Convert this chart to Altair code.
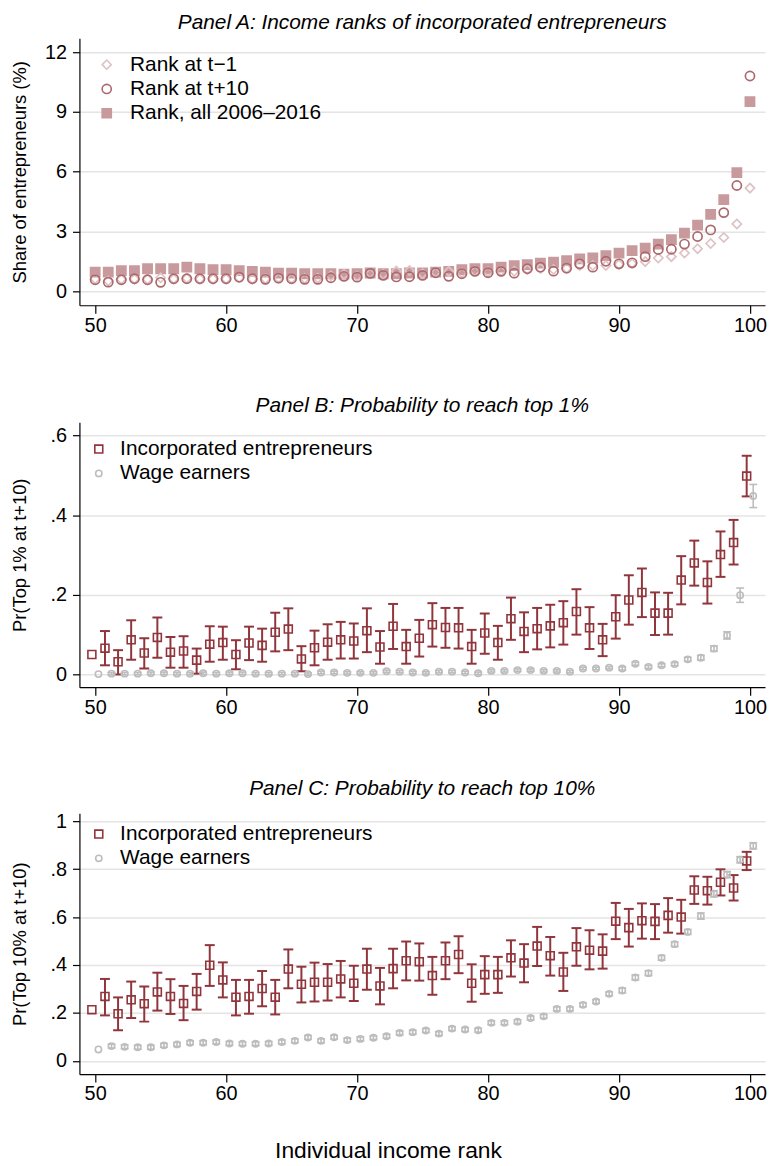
import altair as alt
import pandas as pd

ranks = list(range(50, 101))

# ---------------- Panel A: share of entrepreneurs (%) ----------------
rank_tm1 = [0.62, 0.52, 0.60, 0.62, 0.60, 0.68, 0.62, 0.65, 0.62, 0.62,
            0.62, 0.68, 0.62, 0.62, 0.66, 0.64, 0.64, 0.66, 0.78, 0.85,
            0.76, 0.90, 0.86, 1.02, 1.04, 0.88, 0.95, 1.00, 0.92, 1.02,
            0.98, 1.02, 1.00, 1.10, 1.15, 1.09, 1.15, 1.30, 1.29, 1.29,
            1.35, 1.40, 1.49, 1.67, 1.74, 1.92, 2.14, 2.40, 2.70, 3.38,
            5.18]
rank_tp10 = [0.58, 0.46, 0.58, 0.63, 0.58, 0.45, 0.63, 0.63, 0.63, 0.63,
             0.63, 0.71, 0.63, 0.60, 0.66, 0.63, 0.60, 0.60, 0.68, 0.75,
             0.71, 0.90, 0.80, 0.72, 0.73, 0.80, 0.93, 0.75, 0.88, 1.00,
             0.93, 1.00, 0.91, 1.13, 1.21, 1.01, 1.16, 1.38, 1.21, 1.51,
             1.38, 1.43, 1.74, 2.10, 2.11, 2.37, 2.75, 3.08, 3.95, 5.31,
             10.81]
rank_all = [0.96, 0.96, 1.04, 1.04, 1.13, 1.13, 1.13, 1.21, 1.13, 1.09,
            1.08, 1.04, 1.00, 0.96, 0.91, 0.91, 0.88, 0.88, 0.88, 0.86,
            0.88, 0.92, 0.88, 0.88, 0.92, 0.92, 0.96, 1.00, 1.08, 1.13,
            1.13, 1.21, 1.29, 1.34, 1.41, 1.46, 1.54, 1.63, 1.67, 1.79,
            1.92, 2.04, 2.16, 2.37, 2.59, 2.92, 3.32, 3.86, 4.60, 5.96,
            9.52]

# ---------------- Panel B: Pr(top 1% at t+10) ----------------
top1_ent = [0.050, 0.066, 0.032, 0.087, 0.054, 0.093, 0.056, 0.059, 0.036, 0.076,
            0.080, 0.050, 0.079, 0.073, 0.106, 0.114, 0.039, 0.067, 0.081, 0.087,
            0.084, 0.110, 0.069, 0.121, 0.070, 0.091, 0.125, 0.118, 0.117, 0.070,
            0.104, 0.080, 0.140, 0.108, 0.115, 0.122, 0.130, 0.158, 0.117, 0.087,
            0.145, 0.187, 0.206, 0.154, 0.154, 0.237, 0.280, 0.231, 0.301, 0.331,
            0.498]
top1_ent_lo = [None, 0.023, 0.000, 0.037, 0.015, 0.042, 0.017, 0.017, 0.002, 0.032,
               0.037, 0.013, 0.036, 0.032, 0.058, 0.061, 0.008, 0.023, 0.037, 0.040,
               0.040, 0.056, 0.027, 0.064, 0.027, 0.045, 0.070, 0.067, 0.065, 0.027,
               0.052, 0.037, 0.087, 0.056, 0.063, 0.068, 0.075, 0.100, 0.064, 0.046,
               0.090, 0.125, 0.144, 0.099, 0.100, 0.176, 0.223, 0.178, 0.245, 0.276,
               0.447]
top1_ent_hi = [None, 0.109, 0.061, 0.136, 0.091, 0.143, 0.094, 0.096, 0.065, 0.121,
               0.120, 0.086, 0.120, 0.115, 0.155, 0.166, 0.071, 0.110, 0.126, 0.132,
               0.128, 0.166, 0.109, 0.177, 0.112, 0.137, 0.179, 0.167, 0.167, 0.112,
               0.153, 0.122, 0.193, 0.156, 0.167, 0.175, 0.184, 0.214, 0.169, 0.127,
               0.199, 0.249, 0.266, 0.206, 0.205, 0.297, 0.336, 0.284, 0.359, 0.388,
               0.549]
top1_wage = [0.001, 0.002, 0.002, 0.002, 0.003, 0.003, 0.002, 0.002, 0.003, 0.002,
             0.003, 0.003, 0.002, 0.002, 0.002, 0.002, 0.001, 0.005, 0.005, 0.004,
             0.004, 0.004, 0.008, 0.007, 0.005, 0.004, 0.007, 0.007, 0.005, 0.003,
             0.009, 0.009, 0.011, 0.011, 0.009, 0.009, 0.007, 0.015, 0.015, 0.017,
             0.015, 0.027, 0.019, 0.023, 0.026, 0.038, 0.042, 0.065, 0.098, 0.199,
             0.448]
top1_wage_hw = [None, 0.003, 0.003, 0.003, 0.003, 0.003, 0.003, 0.003, 0.003, 0.003,
                0.003, 0.003, 0.003, 0.003, 0.003, 0.003, 0.003, 0.003, 0.003, 0.003,
                0.003, 0.003, 0.003, 0.003, 0.003, 0.003, 0.003, 0.003, 0.003, 0.003,
                0.003, 0.003, 0.003, 0.003, 0.003, 0.003, 0.003, 0.003, 0.003, 0.003,
                0.004, 0.004, 0.004, 0.004, 0.004, 0.005, 0.006, 0.007, 0.009, 0.018,
                0.029]

# ---------------- Panel C: Pr(top 10% at t+10) ----------------
top10_ent = [0.214, 0.269, 0.197, 0.255, 0.239, 0.288, 0.269, 0.240, 0.290, 0.399,
             0.338, 0.266, 0.269, 0.302, 0.266, 0.383, 0.320, 0.328, 0.328, 0.342,
             0.324, 0.383, 0.313, 0.385, 0.418, 0.414, 0.356, 0.418, 0.444, 0.324,
             0.360, 0.360, 0.430, 0.408, 0.479, 0.439, 0.371, 0.476, 0.462, 0.458,
             0.583, 0.556, 0.585, 0.582, 0.607, 0.600, 0.713, 0.710, 0.745, 0.721,
             0.834]
top10_ent_lo = [None, 0.190, 0.128, 0.179, 0.164, 0.210, 0.196, 0.170, 0.214, 0.313,
                0.265, 0.190, 0.197, 0.228, 0.194, 0.303, 0.244, 0.248, 0.252, 0.265,
                0.250, 0.297, 0.236, 0.303, 0.336, 0.335, 0.276, 0.341, 0.366, 0.247,
                0.280, 0.284, 0.352, 0.328, 0.396, 0.356, 0.292, 0.397, 0.382, 0.385,
                0.508, 0.477, 0.510, 0.508, 0.535, 0.531, 0.655, 0.652, 0.690, 0.669,
                0.796]
top10_ent_hi = [None, 0.342, 0.265, 0.331, 0.310, 0.368, 0.341, 0.313, 0.363, 0.483,
                0.411, 0.338, 0.338, 0.375, 0.338, 0.465, 0.393, 0.410, 0.404, 0.417,
                0.397, 0.468, 0.388, 0.468, 0.498, 0.490, 0.434, 0.494, 0.520, 0.403,
                0.437, 0.434, 0.503, 0.487, 0.559, 0.517, 0.451, 0.554, 0.545, 0.528,
                0.659, 0.634, 0.657, 0.654, 0.679, 0.672, 0.770, 0.768, 0.799, 0.775,
                0.872]
top10_wage = [0.048, 0.062, 0.059, 0.057, 0.057, 0.065, 0.069, 0.076, 0.076, 0.079,
              0.073, 0.072, 0.072, 0.073, 0.079, 0.084, 0.098, 0.084, 0.099, 0.087,
              0.092, 0.097, 0.103, 0.117, 0.120, 0.127, 0.114, 0.135, 0.131, 0.128,
              0.159, 0.159, 0.164, 0.179, 0.186, 0.217, 0.217, 0.234, 0.248, 0.280,
              0.294, 0.348, 0.366, 0.430, 0.487, 0.538, 0.604, 0.697, 0.777, 0.839,
              0.897]
top10_wage_hw = [None, 0.008, 0.008, 0.008, 0.008, 0.008, 0.008, 0.008, 0.008, 0.008,
                 0.008, 0.008, 0.008, 0.008, 0.008, 0.008, 0.008, 0.008, 0.008, 0.008,
                 0.008, 0.008, 0.008, 0.008, 0.008, 0.008, 0.008, 0.008, 0.008, 0.008,
                 0.008, 0.008, 0.008, 0.008, 0.008, 0.008, 0.008, 0.008, 0.008, 0.008,
                 0.010, 0.010, 0.010, 0.010, 0.010, 0.010, 0.013, 0.013, 0.013, 0.013,
                 0.013]

x_ticks = [50, 60, 70, 80, 90, 100]

# ---------------- styling ----------------
FONT = "Liberation Sans"
RED = "#90353b"
GRAY = "#bdbdbd"
A_SQ = "#c89a9d"
A_CI = "#ac686c"
A_DI = "#dec2c4"
PLOT_W = 691
X_DOMAIN = [48.8, 101.15]

ENT = "Incorporated entrepreneurs"
WAGE = "Wage earners"


def x_enc(field, title=None, show_title=False):
    ax = dict(values=x_ticks, grid=False, tickSize=8, labelPadding=2)
    if show_title:
        ax.update(title=title, titleFontSize=23, titlePadding=36, titleX=311)
    else:
        ax.update(title=None)
    return alt.X(field, scale=alt.Scale(domain=X_DOMAIN, nice=False, zero=False),
                 axis=alt.Axis(**ax))


def y_axis(values, title, label_expr=None):
    kw = dict(values=values, title=title, grid=True, tickSize=7, labelPadding=6,
              minExtent=36, maxExtent=36, titlePadding=14)
    if label_expr:
        kw["labelExpr"] = label_expr
    return alt.Axis(**kw)


# ---------------- Panel A ----------------
names_a = ["Rank at t\u22121", "Rank at t+10", "Rank, all 2006\u20132016"]
rows = []
for r, v in zip(ranks, rank_all):
    rows.append({"rank": r, "value": v, "series": names_a[2]})
for r, v in zip(ranks, rank_tm1):
    rows.append({"rank": r, "value": v, "series": names_a[0]})
for r, v in zip(ranks, rank_tp10):
    rows.append({"rank": r, "value": v, "series": names_a[1]})
df_a = pd.DataFrame(rows)

leg_a = alt.Legend(orient="none", legendX=17, legendY=16, title=None,
                   labelFontSize=21, labelFont=FONT, symbolSize=85, labelLimit=0,
                   symbolStrokeWidth=1.6, rowPadding=2.5, labelOffset=13,
                   padding=0)

panel_a = alt.Chart(df_a).mark_point(filled=False, strokeWidth=1.7, opacity=1,
                                     size=85).encode(
    x=x_enc("rank:Q"),
    y=alt.Y("value:Q", scale=alt.Scale(domain=[-0.7, 12.7], nice=False, zero=False),
            axis=y_axis([0, 3, 6, 9, 12], "Share of entrepreneurs (%)")),
    shape=alt.Shape("series:N", scale=alt.Scale(domain=names_a,
                                                range=["diamond", "circle", "square"]),
                    legend=leg_a),
    stroke=alt.Stroke("series:N", scale=alt.Scale(domain=names_a,
                                                  range=[A_DI, A_CI, A_SQ]),
                      legend=leg_a),
    fill=alt.Fill("series:N", scale=alt.Scale(domain=names_a,
                                              range=["transparent", "transparent", A_SQ]),
                  legend=leg_a),
).properties(
    width=PLOT_W, height=269,
    title=alt.TitleParams("Panel A: Income ranks of incorporated entrepreneurs",
                          offset=5),
)


# ---------------- Panels B & C ----------------
def prob_panel(title, ytitle, ent, ent_lo, ent_hi, wage, wage_hw, ydom, yvals,
               height, title_offset, legend_y, show_xtitle):
    pts = []
    errs = []
    for r, v, lo, hi in zip(ranks, ent, ent_lo, ent_hi):
        pts.append({"rank": r, "value": v, "group": ENT})
        if lo is not None:
            errs.append({"rank": r, "lo": lo, "hi": hi, "group": ENT})
    for r, v, hw in zip(ranks, wage, wage_hw):
        pts.append({"rank": r, "value": v, "group": WAGE})
        if hw is not None:
            errs.append({"rank": r, "lo": v - hw, "hi": v + hw, "group": WAGE})
    df_p = pd.DataFrame(pts)
    df_e = pd.DataFrame(errs)

    xpos = "datum.rank + (datum.group == 'Wage earners' ? 0.25 : -0.25)"
    ydomain = alt.Scale(domain=ydom, nice=False, zero=False)
    lab = "datum.value == 0 ? '0' : (datum.value == 1 ? '1' : replace(format(datum.value, '.1f'), '0.', '.'))"
    yax = y_axis(yvals, ytitle, lab)
    xe = x_enc("xpos:Q", "Individual income rank", show_xtitle)

    layers = []
    for grp, col, cap, sw in [(ENT, RED, 10, 2.0), (WAGE, GRAY, 8, 1.6)]:
        base = alt.Chart(df_e).transform_filter(
            alt.datum.group == grp).transform_calculate(xpos=xpos)
        layers.append(base.mark_rule(color=col, strokeWidth=sw).encode(
            x=xe, y=alt.Y("lo:Q", scale=ydomain, axis=yax), y2="hi:Q"))
        layers.append(base.mark_tick(color=col, orient="horizontal", size=cap,
                                     thickness=sw, opacity=1).encode(
            x=xe, y=alt.Y("lo:Q", scale=ydomain, axis=yax)))
        layers.append(base.mark_tick(color=col, orient="horizontal", size=cap,
                                     thickness=sw, opacity=1).encode(
            x=xe, y=alt.Y("hi:Q", scale=ydomain, axis=yax)))

    leg = alt.Legend(orient="none", legendX=9, legendY=legend_y, title=None,
                     labelFontSize=21, labelFont=FONT, symbolSize=55, labelLimit=0,
                     symbolStrokeWidth=1.6, rowPadding=2.5, labelOffset=11,
                     padding=0)
    dom = [ENT, WAGE]
    points = alt.Chart(df_p).transform_calculate(xpos=xpos).mark_point(
        filled=False, strokeWidth=1.6, opacity=1).encode(
        x=xe,
        y=alt.Y("value:Q", scale=ydomain, axis=yax),
        shape=alt.Shape("group:N", scale=alt.Scale(domain=dom, range=["square", "circle"]),
                        legend=leg),
        color=alt.Color("group:N", scale=alt.Scale(domain=dom, range=[RED, GRAY]),
                        legend=leg),
        size=alt.Size("group:N", scale=alt.Scale(domain=dom, range=[64, 40]),
                      legend=leg),
    )
    return alt.layer(*layers, points).properties(
        width=PLOT_W, height=height,
        title=alt.TitleParams(title, offset=title_offset),
    )


panel_b = prob_panel("Panel B: Probability to reach top 1%", "Pr(Top 1% at t+10)",
                     top1_ent, top1_ent_lo, top1_ent_hi, top1_wage, top1_wage_hw,
                     [-0.032, 0.633], [0, 0.2, 0.4, 0.6], 267, 6, 16.5, False)
panel_c = prob_panel("Panel C: Probability to reach top 10%", "Pr(Top 10% at t+10)",
                     top10_ent, top10_ent_lo, top10_ent_hi, top10_wage, top10_wage_hw,
                     [-0.055, 1.033], [0, 0.2, 0.4, 0.6, 0.8, 1.0], 263, 12, 10.5, True)

chart = alt.vconcat(panel_a, panel_b, panel_c, spacing=61).resolve_scale(
    shape="independent", color="independent", size="independent",
    stroke="independent", fill="independent", x="independent", y="independent",
).properties(
    padding={"left": 3, "top": 0, "right": 0, "bottom": 0}
).configure_view(stroke=None).configure_axis(
    domainColor="black", domainWidth=1.2, tickColor="black", tickWidth=1.2,
    labelFont=FONT, labelFontSize=20, labelColor="black",
    titleFont=FONT, titleFontSize=18.5, titleFontWeight="normal", titleColor="black",
    gridColor="#e4e4e4", gridWidth=1.5,
).configure_axisY(labelAngle=0).configure_title(
    font=FONT, fontSize=21, fontStyle="italic", fontWeight="normal",
    color="black", anchor="middle", frame="group",
).configure_legend(labelColor="black")

chart.save("out.html", embed_options={"renderer": "svg", "actions": False})
